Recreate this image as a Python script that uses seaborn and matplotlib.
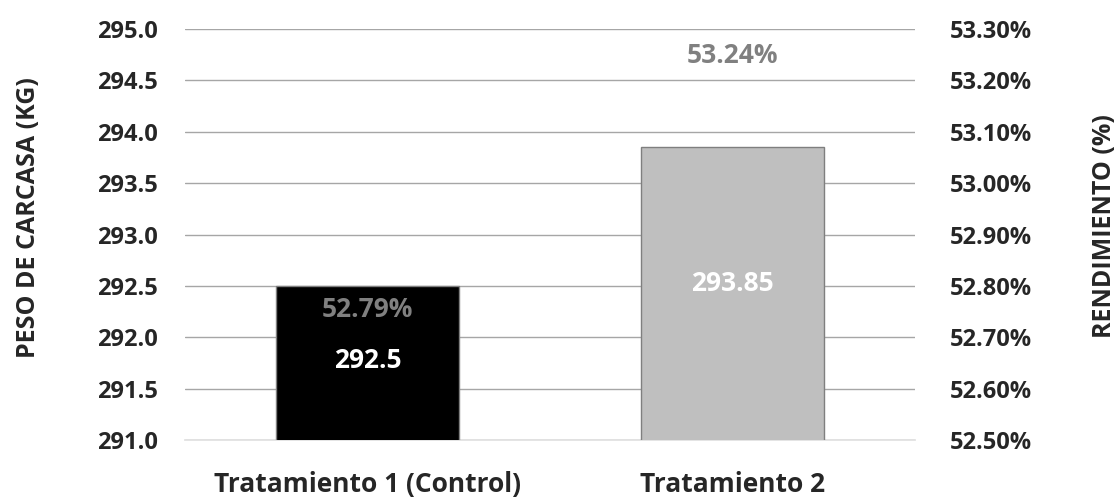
import matplotlib
matplotlib.use("Agg")
import matplotlib.pyplot as plt
import matplotlib.ticker as mticker
import seaborn as sns
import pandas as pd

categories = ["Tratamiento 1 (Control)", "Tratamiento 2"]
peso_carcasa = [292.5, 293.85]
rendimiento = [52.79, 53.24]
left_ticks = [291.0, 291.5, 292.0, 292.5, 293.0, 293.5, 294.0, 294.5, 295.0]
right_ticks = [52.5, 52.6, 52.7, 52.8, 52.9, 53.0, 53.1, 53.2, 53.3]

bar_colors = ["#000000", "#bfbfbf"]
label_gray = "#808080"

sns.set_theme(style="white")
plt.rcParams["font.family"] = ["Open Sans", "DejaVu Sans"]
plt.rcParams["font.weight"] = "bold"

df = pd.DataFrame({"cat": categories, "peso": peso_carcasa, "rend": rendimiento})

fig = plt.figure(figsize=(11.16, 5.0), dpi=100)
ax = fig.add_axes([0.166, 0.12, 0.654, 0.822])

sns.barplot(data=df, x="cat", y="peso", hue="cat", palette=bar_colors,
            width=0.5, ax=ax, legend=False, edgecolor="#7f7f7f", linewidth=1,
            zorder=3)

ax.set_ylim(291.0, 295.0)
ax.set_yticks(left_ticks)
ax.yaxis.set_major_formatter(mticker.FormatStrFormatter("%.1f"))
ax.set_xlim(-0.5, 1.5)
ax.grid(axis="y", color="#a6a6a6", linewidth=1, zorder=0)
ax.grid(axis="x", visible=False)
for s in ["top", "right", "left"]:
    ax.spines[s].set_visible(False)
ax.spines["bottom"].set_color("#e0e0e0")
ax.tick_params(axis="both", length=0)
ax.tick_params(axis="y", labelsize=17, pad=20)
ax.tick_params(axis="x", labelsize=19, pad=22)
for t in ax.get_yticklabels() + ax.get_xticklabels():
    t.set_fontweight("bold")
ax.set_xlabel("")
ax.set_ylabel("PESO DE CARCASA (KG)", fontsize=18, fontweight="bold")
ax.yaxis.set_label_coords(-0.198, 0.54)

# Carcass weight labels inside each bar
bar_label_offsets = [2, 7.5]
for i, v in enumerate(peso_carcasa):
    ax.annotate(f"{v:g}", xy=(i, (291.0 + v) / 2), xytext=(0, bar_label_offsets[i]),
                textcoords="offset points", ha="center", va="center",
                color="white", fontsize=19, fontweight="bold", zorder=5)

# Secondary axis: yield percentage
ax2 = ax.twinx()
ax2.set_ylim(52.5, 53.3)
ax2.set_yticks(right_ticks)
ax2.yaxis.set_major_formatter(mticker.FuncFormatter(lambda v, p: f"{v:.2f}%"))
for s in ax2.spines.values():
    s.set_visible(False)
ax2.tick_params(axis="y", length=0, labelsize=17, pad=25)
for t in ax2.get_yticklabels():
    t.set_fontweight("bold")
ax2.set_ylabel("RENDIMIENTO (%)", fontsize=18, fontweight="bold")
ax2.yaxis.set_label_coords(1.2425, 0.52)
ax2.grid(False)

pct_offsets = [-13, 3]
for i, v in enumerate(rendimiento):
    ax2.annotate(f"{v:.2f}%", xy=(i, v), xytext=(0, pct_offsets[i]),
                 textcoords="offset points", ha="center", va="center",
                 color=label_gray, fontsize=19, fontweight="bold", zorder=6)

fig.savefig("out.png", dpi=100)
